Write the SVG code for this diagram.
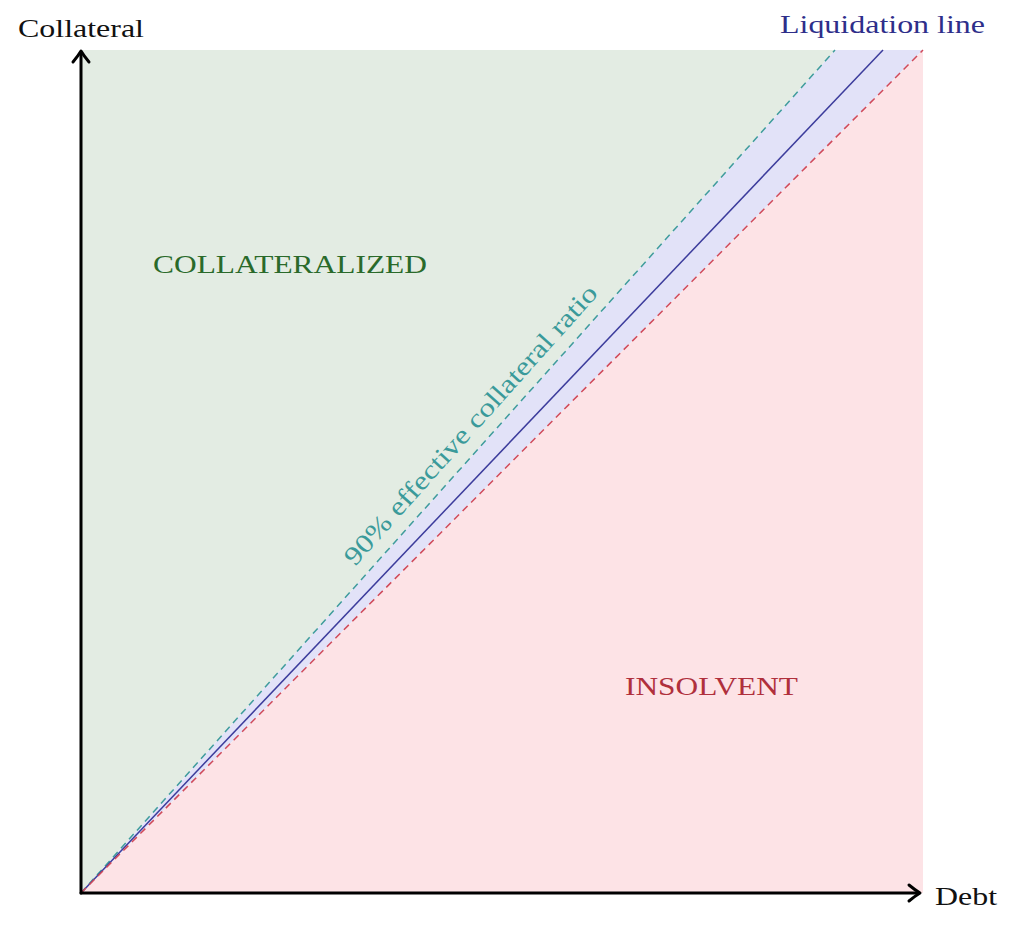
<svg xmlns="http://www.w3.org/2000/svg" width="1022" height="940" viewBox="0 0 1022 940">
<style>
.lbl{font-family:"Liberation Serif","DejaVu Serif",serif;font-size:26px}
.axis{stroke:#000;stroke-width:3;fill:none;stroke-linecap:round;stroke-linejoin:round}
</style>
<rect width="1022" height="940" fill="#fff"/>
<g id="regions">
<polygon points="81,893 81,50 835,50" fill="#e3ece3"/>
<polygon points="81,893 835,50 923,50" fill="#e2e2f8"/>
<polygon points="81,893 923,50 923,893" fill="#fde3e6"/>
</g>
<g id="connectors">
<line x1="81" y1="893" x2="835" y2="50" stroke="#3f9c9c" stroke-width="1.5" stroke-dasharray="7,5"/>
<line x1="81" y1="893" x2="883" y2="50" stroke="#3c3c9c" stroke-width="1.5"/>
<line x1="81" y1="893" x2="923" y2="50" stroke="#d04a5a" stroke-width="1.5" stroke-dasharray="7,5"/>
<path class="axis" d="M81,893 V52"/>
<path class="axis" d="M73,62 Q78,56 81,51 Q84,56 89,62"/>
<path class="axis" d="M81,893 H919"/>
<path class="axis" d="M909,885 Q915,890 920,893 Q915,896 909,901"/>
</g>
<g id="label-collateral"><text class="lbl" x="18" y="37" textLength="126" lengthAdjust="spacingAndGlyphs" fill="#111">Collateral</text></g>
<g id="label-liquidation"><text class="lbl" x="780" y="33" textLength="205" lengthAdjust="spacingAndGlyphs" fill="#2e2e8a">Liquidation line</text></g>
<g id="label-debt"><text class="lbl" x="935" y="905" textLength="62" lengthAdjust="spacingAndGlyphs" fill="#111">Debt</text></g>
<g id="label-collateralized"><text class="lbl" x="153" y="273" textLength="274" lengthAdjust="spacingAndGlyphs" fill="#2a6a2a">COLLATERALIZED</text></g>
<g id="label-insolvent"><text class="lbl" x="625" y="695" textLength="173" lengthAdjust="spacingAndGlyphs" fill="#b0303c">INSOLVENT</text></g>
<g id="label-ratio"><text class="lbl" transform="translate(355,567) rotate(-48.2)" x="0" y="0" textLength="366" lengthAdjust="spacingAndGlyphs" fill="#3a9a9a">90% effective collateral ratio</text></g>
</svg>
